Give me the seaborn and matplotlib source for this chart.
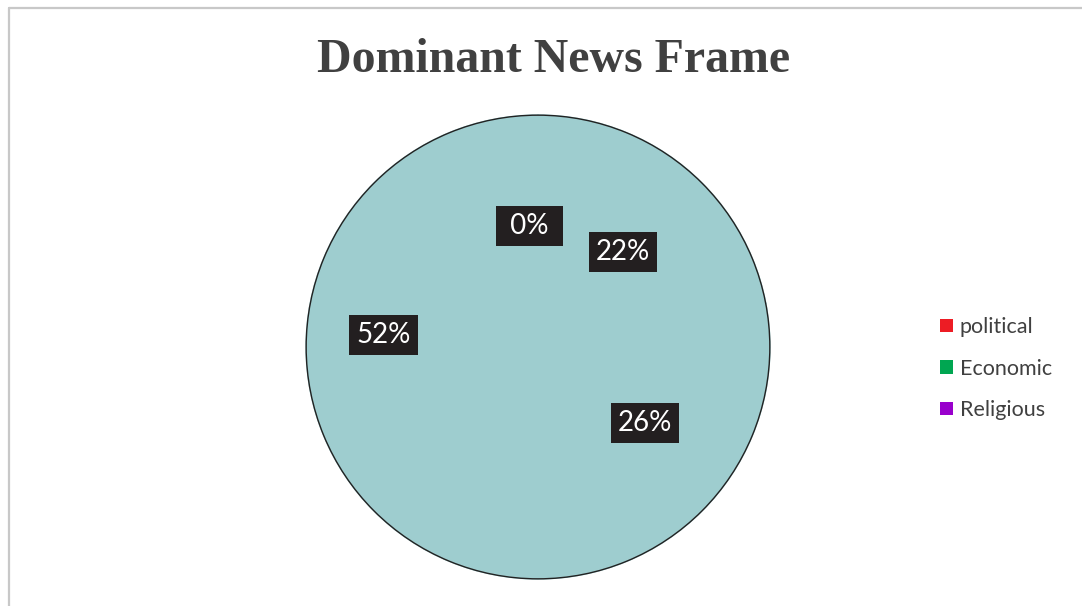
import numpy as np
import matplotlib
matplotlib.use("Agg")
import matplotlib.pyplot as plt
from matplotlib.patches import Patch
from matplotlib.lines import Line2D
import seaborn as sns

# ---- data ----
title = "Dominant News Frame"
slice_labels = ["political", "Economic", "Religious", "Other"]
slice_values = [0, 22, 26, 52]
legend_labels = ["political", "Economic", "Religious"]
legend_colors = ["#ED1C24", "#00A651", "#9900CC"]

# ---- style ----
pie_color = "#9ECDCF"
label_dist = [0.525, 0.55, 0.565, 0.668]
label_nudge_deg = [4.0, -2.0, 0.6, -8.0]

sns.set_theme(style="white")
plt.rcParams["font.family"] = ["Lato", "DejaVu Sans"]

W, H = 1082, 606
fig = plt.figure(figsize=(W / 100, H / 100), dpi=100)
fig.patch.set_facecolor("white")

cx, cy, r = 538, 347, 233
ax = fig.add_axes([(cx - r) / W, (H - cy - r) / H, 2 * r / W, 2 * r / H])

base = 0.55
wedges, texts, autotexts = ax.pie(
    slice_values,
    colors=[pie_color] * len(slice_values),
    startangle=90,
    counterclock=False,
    autopct="%1.0f%%",
    pctdistance=base,
    wedgeprops=dict(linewidth=1.2, edgecolor=pie_color),
    textprops=dict(color="white", fontsize=20),
)
# outer outline
ax.pie([1], colors=["none"], wedgeprops=dict(linewidth=1.0, edgecolor="#222222", fill=False))

for t, d, nd in zip(autotexts, label_dist, label_nudge_deg):
    x, y = t.get_position()
    ang = np.arctan2(y, x) + np.deg2rad(nd)
    t.set_position((d * np.cos(ang), d * np.sin(ang)))
    s = t.get_text()
    if len(s) < 3:
        t.set_text(" " + s + " ")
    t.set_bbox(dict(boxstyle="square,pad=0.25", fc="#231F20", ec="none"))

ax.set_xlim(-1.005, 1.005)
ax.set_ylim(-1.005, 1.005)
ax.set_aspect("equal")
ax.axis("off")

fig.text(554 / W, 1 - 72 / H, title, ha="center", va="baseline",
         fontsize=34.5, fontweight="bold", color="#404040",
         family=["Liberation Serif", "DejaVu Serif"])

handles = [Patch(facecolor=c, edgecolor="none") for c in legend_colors]
leg = fig.legend(handles, legend_labels, loc="upper left",
                 bbox_to_anchor=(940 / W, 1 - 317 / H), frameon=False,
                 fontsize=15.5, handlelength=0.6, handleheight=0.6,
                 handletextpad=0.32, labelspacing=1.0, borderpad=0, borderaxespad=0)
for txt in leg.get_texts():
    txt.set_color("#404040")

# chart-area border (top and left visible)
fig.add_artist(Line2D([8.5 / W, 1], [1 - 7.5 / H, 1 - 7.5 / H], transform=fig.transFigure,
                      color="#C8C8C8", lw=1.6))
fig.add_artist(Line2D([8.5 / W, 8.5 / W], [0, 1 - 7.5 / H], transform=fig.transFigure,
                      color="#C8C8C8", lw=1.6))

fig.savefig("out.png", dpi=100)
